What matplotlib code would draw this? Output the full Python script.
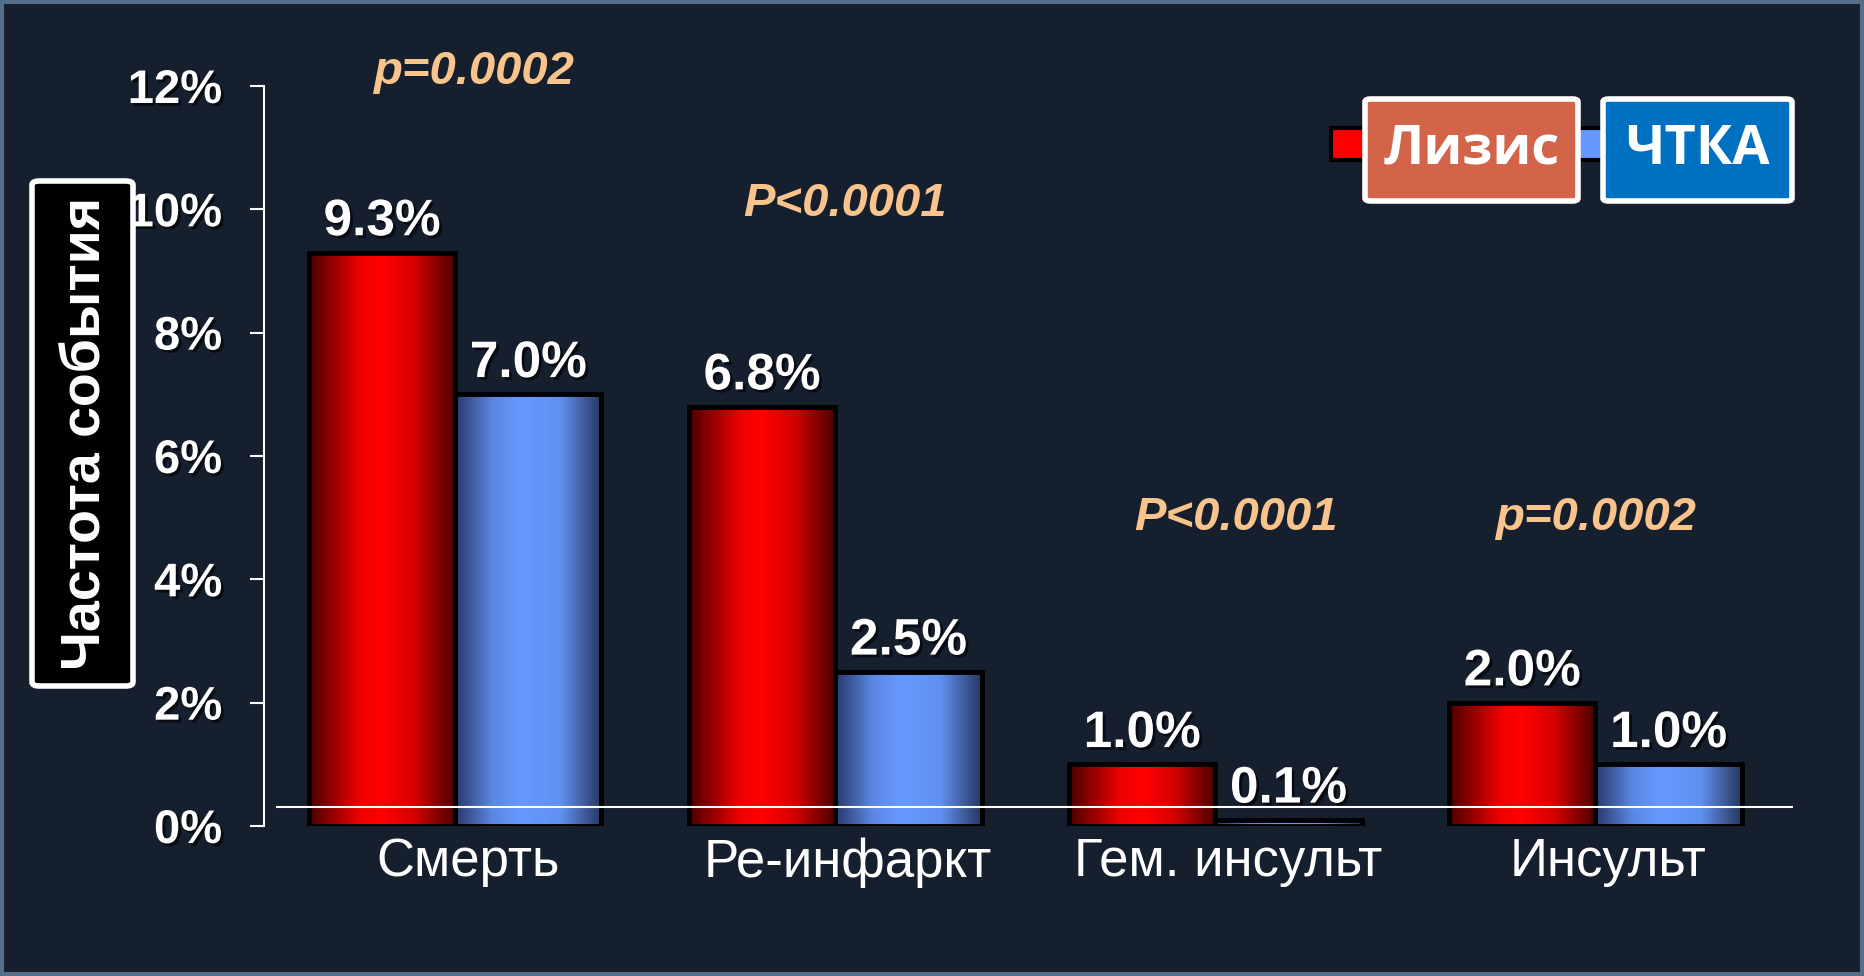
import numpy as np
import matplotlib
matplotlib.use('Agg')
import matplotlib.pyplot as plt
from matplotlib.colors import LinearSegmentedColormap
from matplotlib.patches import FancyBboxPatch, Rectangle
import matplotlib.patheffects as pe

# Données
categories = ['Смерть', 'Ре-инфаркт', 'Гем. инсульт', 'Инсульт']
series_names = ['Лизис', 'ЧТКА']
lysis = [9.3, 6.8, 1.0, 2.0]
pci = [7.0, 2.5, 0.1, 1.0]
p_labels = ['p=0.0002', 'P<0.0001', 'P<0.0001', 'p=0.0002']
y_ticks = [0, 2, 4, 6, 8, 10, 12]
y_label = 'Частота события'

# Placement des p-valeurs (décalage x, hauteur y)
p_dx = [0.047, 0.025, 0.053, 0.0]
p_y = [12.23, 10.08, 4.99, 4.99]

W, H = 1864, 976
bg = '#161f2d'
peach = '#f9c38c'
font = 'Liberation Sans'


def fx(px):
    return px / W


def fy(py):
    return 1 - py / H


fig = plt.figure(figsize=(W / 100, H / 100), dpi=100)
fig.patch.set_facecolor(bg)

ax = fig.add_axes([fx(264), fy(826), fx(1793) - fx(264), fy(86) - fy(826)])
ax.set_facecolor('none')

x = np.arange(len(categories))
w = 0.385
bars_l = ax.bar(x - w / 2, lysis, w, facecolor='none', edgecolor='black', linewidth=3.5, zorder=3)
bars_p = ax.bar(x + w / 2, pci, w, facecolor='none', edgecolor='black', linewidth=3.5, zorder=3)

# Dégradés horizontaux
red_cmap = LinearSegmentedColormap.from_list('r', [(0, '#4a0000'), (0.35, '#f00000'), (0.5, '#ff0000'),
                                                   (0.72, '#d40000'), (1, '#4a0000')])
blue_cmap = LinearSegmentedColormap.from_list('b', [(0, '#28386a'), (0.25, '#5a86e0'), (0.45, '#6699ff'),
                                                    (0.72, '#6090f0'), (1, '#27365f')])
grad = np.linspace(0, 1, 256).reshape(1, -1)
for bars, cmap in [(bars_l, red_cmap), (bars_p, blue_cmap)]:
    for b in bars:
        x0, h = b.get_x(), b.get_height()
        im = ax.imshow(grad, extent=[x0, x0 + b.get_width(), 0, h], cmap=cmap,
                       aspect='auto', zorder=2, interpolation='bicubic')
        im.set_clip_path(b)

shadow = [pe.withSimplePatchShadow(offset=(2, -2), shadow_rgbFace='black', alpha=0.6)]

# Étiquettes de valeurs
for bars, vals in [(bars_l, lysis), (bars_p, pci)]:
    for b, v in zip(bars, vals):
        ax.text(b.get_x() + b.get_width() / 2, v + 0.28, f'{v:.1f}%', ha='center', va='baseline',
                fontsize=37, fontweight='bold', color='white', family=font, zorder=5, path_effects=shadow)

# p-valeurs
for i, lab in enumerate(p_labels):
    ax.text(x[i] + p_dx[i], p_y[i], lab, ha='center', va='center', fontsize=34,
            fontweight='bold', fontstyle='italic', color=peach, family=font)

# Ligne blanche horizontale
ax.plot([-0.47, 3.52], [0.31, 0.31], color='white', linewidth=1.5, zorder=6)

ax.set_xlim(-0.503, 3.52)
ax.set_ylim(0, 12)

for s in ['top', 'right', 'bottom']:
    ax.spines[s].set_visible(False)
ax.spines['left'].set_color('white')
ax.spines['left'].set_linewidth(1.5)

ax.set_yticks(y_ticks)
ax.set_yticklabels([f'{t}%' for t in y_ticks], fontsize=34, fontweight='bold', color='white', family=font)
for lab in ax.get_yticklabels():
    lab.set_path_effects(shadow)
ax.tick_params(axis='y', colors='white', length=10, width=1.5, pad=20)

ax.set_xticks(x + 0.033)
ax.set_xticklabels(categories, fontsize=38, color='white', family=font)
ax.tick_params(axis='x', length=0, pad=8)

# Étiquette de l'axe Y dans une boîte noire
fig.add_artist(FancyBboxPatch((fx(32), fy(686)), fx(133) - fx(32), fy(181) - fy(686),
                              boxstyle='round,pad=0,rounding_size=0.004', facecolor='black',
                              edgecolor='white', linewidth=4, transform=fig.transFigure, zorder=2))
fig.text((fx(32) + fx(133)) / 2 + 0.002, (fy(181) + fy(686)) / 2, y_label, rotation=90, ha='center',
         va='center', fontsize=40, fontweight='bold', color='white', family=font, zorder=3)

# Légende
fig.add_artist(Rectangle((fx(1331), fy(160)), fx(1367) - fx(1331), fy(128) - fy(160),
                         facecolor='#ff0000', edgecolor='black', linewidth=3, transform=fig.transFigure, zorder=2))
fig.add_artist(Rectangle((fx(1578), fy(160)), fx(1605) - fx(1578), fy(128) - fy(160),
                         facecolor='#6699ff', edgecolor='black', linewidth=3, transform=fig.transFigure, zorder=2))
for (x0, x1), name, fc in [((1365, 1578), series_names[0], '#d2644a'), ((1603, 1792), series_names[1], '#0070c0')]:
    fig.add_artist(FancyBboxPatch((fx(x0), fy(201)), fx(x1) - fx(x0), fy(99) - fy(201),
                                  boxstyle='round,pad=0,rounding_size=0.003', facecolor=fc,
                                  edgecolor='white', linewidth=4, transform=fig.transFigure, zorder=3))
    fig.text((fx(x0) + fx(x1)) / 2, (fy(99) + fy(201)) / 2, name, ha='center', va='center',
             fontsize=39, fontweight='bold', color='white', family='Open Sans', zorder=4)

# Cadre
fig.add_artist(Rectangle((0.001, 0.002), 0.998, 0.996, facecolor='none', edgecolor='#56708c',
                         linewidth=3, transform=fig.transFigure, zorder=10))

fig.savefig('out.png', dpi=100, facecolor=fig.get_facecolor())
